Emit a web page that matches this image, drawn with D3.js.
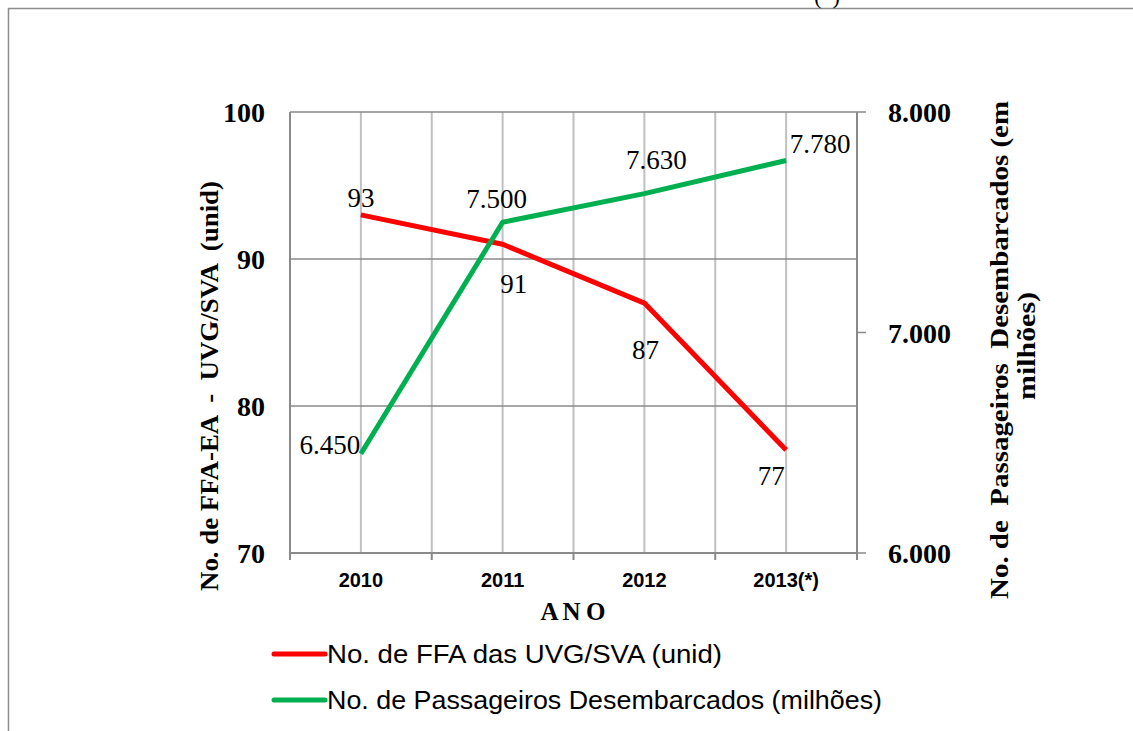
<!DOCTYPE html>
<html><head><meta charset="utf-8">
<script src="https://cdn.jsdelivr.net/npm/d3@7"></script>
<style>body{margin:0;background:#fff}svg{display:block}</style>
</head><body>
<svg id="c" width="1133" height="731"></svg>
<script>
const years = ["2010","2011","2012","2013(*)"];
const ffa = [93, 91, 87, 77];
const passageiros = [6450, 7500, 7630, 7780];
const leftTicks = [70, 80, 90, 100];
const rightTicks = [6000, 7000, 8000];
const ffaLabels = ["93","91","87","77"];
const pasLabels = ["6.450","7.500","7.630","7.780"];

const svg = d3.select("#c");
const W = 1133, H = 731;
const L = 290, R = 857, T = 112, B = 553;
const serif = "'Liberation Serif', 'DejaVu Serif', serif";
const sans = "'Liberation Sans', Arial, sans-serif";

// outer border (partial frame)
svg.append("line").attr("x1",8).attr("x2",W).attr("y1",8.5).attr("y2",8.5).attr("stroke","#8c8c8c").attr("stroke-width",1.5);
svg.append("line").attr("x1",8.5).attr("x2",8.5).attr("y1",8).attr("y2",H).attr("stroke","#8c8c8c").attr("stroke-width",1.5);
svg.append("text").attr("x",827).attr("y",4).attr("text-anchor","middle").attr("font-family",serif).attr("font-size",22).text("(*)");

const x = d3.scaleBand().domain(years).range([L, R]);
const yL = d3.scaleLinear().domain([70,100]).range([B, T]);
const yR = d3.scaleLinear().domain([6000,8000]).range([B, T]);
const cx = d => x(d) + x.bandwidth()/2;

// vertical gridlines (centers + boundaries)
const vlines = [];
years.forEach(y => { vlines.push(x(y)); vlines.push(cx(y)); });
vlines.push(R);
svg.append("g").selectAll("line").data(vlines).join("line")
  .attr("x1",d=>d).attr("x2",d=>d).attr("y1",T).attr("y2",B)
  .attr("stroke","#c0c0c0").attr("stroke-width",2);

// horizontal gridlines
svg.append("g").selectAll("line").data(leftTicks).join("line")
  .attr("x1",L).attr("x2",R).attr("y1",d=>yL(d)).attr("y2",d=>yL(d))
  .attr("stroke","#8a8a8a").attr("stroke-width",1.5);

// axes lines
svg.append("line").attr("x1",L).attr("x2",L).attr("y1",T).attr("y2",B).attr("stroke","#8a8a8a").attr("stroke-width",2);
svg.append("line").attr("x1",R).attr("x2",R).attr("y1",T).attr("y2",B).attr("stroke","#8a8a8a").attr("stroke-width",2);
svg.append("line").attr("x1",L).attr("x2",R).attr("y1",B).attr("y2",B).attr("stroke","#8a8a8a").attr("stroke-width",2);

// bottom tick marks at boundaries
const bticks = years.map(y => x(y)).concat([R]);
svg.append("g").selectAll("line").data(bticks).join("line")
  .attr("x1",d=>d).attr("x2",d=>d).attr("y1",B).attr("y2",B+7).attr("stroke","#8a8a8a").attr("stroke-width",2);
// right tick marks
svg.append("g").selectAll("line").data(rightTicks).join("line")
  .attr("x1",R).attr("x2",R+9).attr("y1",d=>yR(d)).attr("y2",d=>yR(d)).attr("stroke","#8a8a8a").attr("stroke-width",1.5);

// tick labels
svg.append("g").selectAll("text").data(leftTicks).join("text")
  .attr("x",265).attr("y",d=>yL(d)+10).attr("text-anchor","end")
  .attr("font-family",serif).attr("font-weight","bold").attr("font-size",28).text(d=>d);
const fmtR = d => d3.format(",")(d).replace(/,/g,".");
svg.append("g").selectAll("text").data(rightTicks).join("text")
  .attr("x",888).attr("y",d=>yR(d)+10).attr("text-anchor","start")
  .attr("font-family",serif).attr("font-weight","bold").attr("font-size",28).text(d=>fmtR(d));
svg.append("g").selectAll("text").data(years).join("text")
  .attr("x",d=>cx(d)).attr("y",B+34).attr("text-anchor","middle")
  .attr("font-family",sans).attr("font-weight","bold").attr("font-size",20).text(d=>d);

// axis titles
svg.append("text").attr("x",573).attr("y",620).attr("text-anchor","middle")
  .attr("font-family",serif).attr("font-weight","bold").attr("font-size",25)
  .attr("textLength",65).text("A N O");
svg.append("text").attr("transform","translate(218,386) rotate(-90)").attr("text-anchor","middle")
  .attr("font-family",serif).attr("font-weight","bold").attr("font-size",26)
  .attr("textLength",410).attr("lengthAdjust","spacingAndGlyphs")
  .style("white-space","pre").text("No. de FFA-EA  -  UVG/SVA  (unid)");
svg.append("text").attr("transform","translate(1008,350) rotate(-90)").attr("text-anchor","middle")
  .attr("font-family",serif).attr("font-weight","bold").attr("font-size",26)
  .attr("textLength",498).attr("lengthAdjust","spacingAndGlyphs")
  .style("white-space","pre").text("No. de  Passageiros  Desembarcados (em");
svg.append("text").attr("transform","translate(1035,346) rotate(-90)").attr("text-anchor","middle")
  .attr("font-family",serif).attr("font-weight","bold").attr("font-size",26)
  .attr("textLength",108).attr("lengthAdjust","spacingAndGlyphs").text("milhões)");

// lines
const lineL = d3.line().x((d,i)=>cx(years[i])).y(d=>yL(d));
const lineR = d3.line().x((d,i)=>cx(years[i])).y(d=>yR(d));
svg.append("path").attr("d",lineL(ffa)).attr("fill","none").attr("stroke","#ff0000").attr("stroke-width",5).attr("stroke-linejoin","round");
svg.append("path").attr("d",lineR(passageiros)).attr("fill","none").attr("stroke","#00b050").attr("stroke-width",5).attr("stroke-linejoin","round");

// data labels
const ffaOff = [[0,-8],[11,49],[1,56],[-15,35]];
svg.append("g").selectAll("text").data(ffa).join("text")
  .attr("x",(d,i)=>cx(years[i])+ffaOff[i][0]).attr("y",(d,i)=>yL(d)+ffaOff[i][1]).attr("text-anchor","middle")
  .attr("font-family",serif).attr("font-size",27).text((d,i)=>ffaLabels[i]);
const pasOff = [[-31,0],[-6,-14],[12,-25],[34,-8]];
svg.append("g").selectAll("text").data(passageiros).join("text")
  .attr("x",(d,i)=>cx(years[i])+pasOff[i][0]).attr("y",(d,i)=>yR(d)+pasOff[i][1]).attr("text-anchor","middle")
  .attr("font-family",serif).attr("font-size",27).text((d,i)=>pasLabels[i]);

// legend
const legend = [["No. de FFA das UVG/SVA (unid)","#ff0000",395],["No. de Passageiros Desembarcados (milhões)","#00b050",555]];
const lg = svg.append("g").selectAll("g").data(legend).join("g").attr("transform",(d,i)=>`translate(0,${654+i*46})`);
lg.append("line").attr("x1",274).attr("x2",325).attr("y1",0).attr("y2",0).attr("stroke",d=>d[1]).attr("stroke-width",5).attr("stroke-linecap","round");
lg.append("text").attr("x",327).attr("y",9).attr("font-family",sans).attr("font-size",25)
  .attr("textLength",d=>d[2]).attr("lengthAdjust","spacingAndGlyphs").text(d=>d[0]);
</script>
</body></html>
